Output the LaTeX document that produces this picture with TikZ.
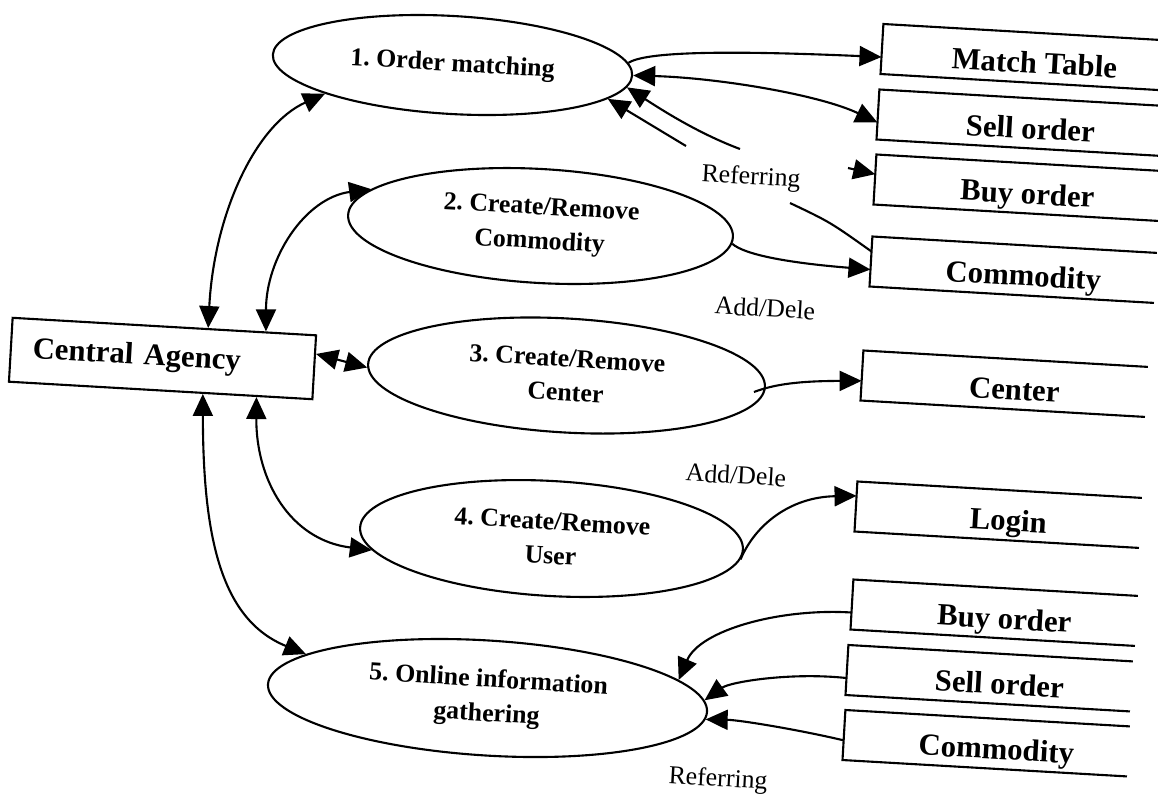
\documentclass[tikz,border=0pt]{standalone}
\usepackage{fontspec}
\setmainfont{Liberation Serif}
\usetikzlibrary{arrows.meta,shapes.geometric,calc}
\frenchspacing
\tikzset{
  proc/.style={ellipse, draw, rotate=-3.3, inner sep=0pt, align=center,
    font=\bfseries\fontsize{14.7}{19.5}\selectfont},
  store/.style={rotate=-3.3, minimum width=6.08cm, minimum height=0.96cm, inner sep=0pt,
    text height=0.62cm, text depth=0pt, font=\bfseries\fontsize{17.5}{21}\selectfont},
  agency/.style={draw, rotate=-3.3, minimum height=1.28cm, text width=5.2cm,
    inner xsep=0.44cm, inner ysep=0pt, align=left, font=\bfseries\fontsize{17.5}{21}\selectfont},
  lbl/.style={rotate=-3.3, inner sep=1pt, font=\fontsize{14.7}{17}\selectfont},
  flow/.style={-{Triangle[length=0.44cm,width=0.4cm]}},
  bflow/.style={{Triangle[length=0.44cm,width=0.4cm]}-{Triangle[length=0.44cm,width=0.4cm]}}
}
\newcommand\storebox[1]{\draw ($(#1.north west)!0.931!(#1.north east)$) -- (#1.north west) -- (#1.south west) -- ($(#1.south west)!0.931!(#1.south east)$);}
\begin{document}
\begin{tikzpicture}[x=0.02cm,y=0.02cm,line width=1.2pt]
\useasboundingbox (0,0) rectangle (1158,-796);
% agency
\node[agency] (ca) at (162.5,-358.5) {Central Agency};
% processes
\node[proc, minimum width=7.2cm, minimum height=1.96cm] (e1) at (452.5,-65) {1. Order matching};
\node[proc, minimum width=7.71cm, minimum height=2.28cm] (e2) at (540.5,-226) {2. Create/Remove\\Commodity};
\node[proc, minimum width=7.95cm, minimum height=2.28cm] (e3) at (566.5,-375.5) {3. Create/Remove\\Center};
\node[proc, minimum width=7.67cm, minimum height=2.3cm] (e4) at (551.5,-538.5) {4. Create/Remove\\User};
\node[proc, rotate=-0.3, minimum width=8.8cm, minimum height=2.3cm] (e5) at (487.5,-698) {5. Online information\\gathering};
% data stores
\node[store] (mt) at (1034.7,-57.8) {Match Table};
\node[store] (so1) at (1030.7,-123.3) {Sell order};
\node[store] (bo1) at (1027.7,-188.3) {Buy order};
\node[store] (co1) at (1023.7,-270.3) {Commodity};
\node[store] (ce) at (1014.7,-384.3) {Center};
\node[store] (lo) at (1008.7,-515.3) {Login};
\node[store] (bo2) at (1004.7,-613.3) {Buy order};
\node[store] (so2) at (999.7,-678.8) {Sell order};
\node[store] (co2) at (996.7,-743.8) {Commodity};
\storebox{mt}\storebox{so1}\storebox{bo1}\storebox{co1}\storebox{ce}
\storebox{lo}\storebox{bo2}\storebox{so2}\storebox{co2}
% labels
\node[lbl] (ref1) at (751,-178) {Referring};
\node[lbl] (ad1) at (765,-308) {Add/Dele};
\node[lbl] (ad2) at (736,-475) {Add/Dele};
\node[lbl] (ref2) at (718,-780) {Referring};
% free ends of broken lines
\coordinate (ra) at (686,-146);
\coordinate (rb) at (740,-149);
\coordinate (rc) at (790,-203);
\coordinate (rd) at (848,-168);
% agency connectors
\draw[bflow] (ca.37) .. controls (214,-215) and (255,-125) .. (e1.-164);
\draw[bflow] (ca.18) .. controls (266,-258) and (305,-198) .. (e2.171);
\draw[bflow] (ca.5) -- (e3.181);
\draw[bflow] (ca.-19) .. controls (256,-480) and (290,-540) .. (e4.-173);
\draw[bflow] (ca.-38) .. controls (203,-540) and (222,-620) .. (e5.170);
% process 1
\draw[flow] (e1.4) .. controls (645,-52) and (720,-50) .. (mt.-177);
\draw[bflow] (e1.east) .. controls (720,-78) and (820,-95) .. (so1.-177);
\draw[flow] (ra) -- (e1.-9);
\draw[flow] (rb) .. controls (700,-134) and (665,-112) .. (e1.-4);
\draw[flow] (rd) -- (bo1.178);
\draw (rc) .. controls (830,-222) .. ($(co1.north west)!0.3!(co1.south west)$);
% process 2,3,4
\draw[flow] (e2.-2) .. controls (745,-255) and (790,-263) .. (co1.-177);
\draw[flow] ($(e3.east)+(-12,-5)$) .. controls (775,-384) and (800,-381) .. (ce.182);
\draw[flow] (e4.-3) .. controls (755,-525) and (790,-497) .. (lo.176);
% process 5
\draw[flow] (bo2.183) .. controls (780,-608) and (700,-630) .. (e5.9);
\draw[flow] (so2.183) .. controls (790,-672) and (730,-682) .. (e5.3);
\draw[flow] (co2.182) .. controls (800,-730) and (740,-720) .. (e5.-2);
\end{tikzpicture}
\end{document}
